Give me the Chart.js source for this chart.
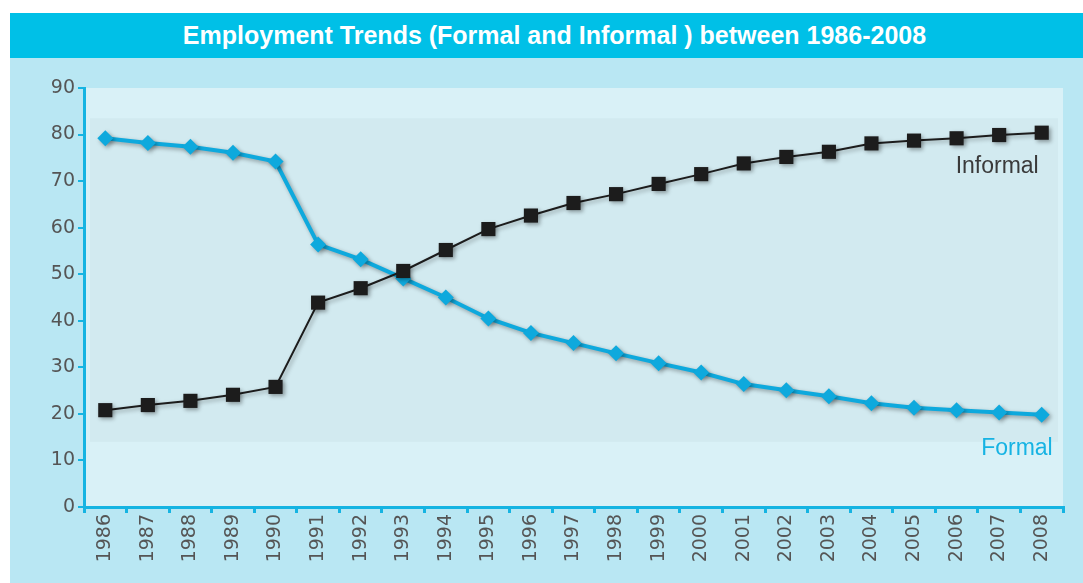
<!DOCTYPE html>
<html>
<head>
<meta charset="utf-8">
<title>Employment Trends</title>
<script src="https://cdn.jsdelivr.net/npm/chart.js@4"></script>
<style>
  html, body { margin: 0; padding: 0; background: #fff; }
  #wrap  { position: relative; width: 1083px; height: 583px; overflow: hidden; }
  #panel { position: absolute; left: 10px; top: 13px; right: 0; bottom: 0; background: #B9E7F3; }
  #title {
    position: absolute; left: 10px; top: 13px; right: 0; height: 45px;
    background: #00C0E7; color: #fff; text-align: center;
    font: bold 25px "Liberation Sans", Arial, sans-serif; line-height: 45px;
    padding-left: 16px; box-sizing: border-box;
  }
  canvas { position: absolute; left: 0; top: 0; }
</style>
</head>
<body>
<div id="wrap">
  <div id="panel"></div>
  <div id="title">Employment Trends (Formal and Informal ) between 1986-2008</div>
  <canvas id="chart" width="1083" height="583"></canvas>
</div>
<script>
// data
const YEARS = ['1986', '1987', '1988', '1989', '1990', '1991', '1992', '1993', '1994', '1995', '1996', '1997',
               '1998', '1999', '2000', '2001', '2002', '2003', '2004', '2005', '2006', '2007', '2008'];
const FORMAL   = [79.2, 78.2, 77.4, 76.1, 74.2, 56.4, 53.2, 49.1, 45.0, 40.5, 37.4, 35.2,
                  33.0, 30.9, 28.9, 26.4, 25.1, 23.8, 22.3, 21.3, 20.8, 20.3, 19.8];
const INFORMAL = [20.8, 21.9, 22.8, 24.1, 25.8, 43.9, 47.0, 50.7, 55.2, 59.7, 62.6, 65.3,
                  67.2, 69.4, 71.5, 73.8, 75.2, 76.3, 78.1, 78.7, 79.2, 79.9, 80.4];
const Y_TICKS = [0, 10, 20, 30, 40, 50, 60, 70, 80, 90];

const CYAN  = '#0EA9DD';
const AXIS  = '#16B4E2';
const INK   = '#1C1C1C';
const TICK_FONT = { family: "'DejaVu Sans', sans-serif", size: 19 };

// plot background + the slightly darker inner band
const backdrop = {
  id: 'backdrop',
  beforeDraw(chart) {
    const { ctx, chartArea: a, scales: { y } } = chart;
    ctx.save();
    ctx.fillStyle = '#D9F1F7';
    ctx.fillRect(a.left, a.top, a.right - a.left, a.bottom - a.top);
    ctx.fillStyle = '#D2EAF0';
    const top = y.getPixelForValue(83.5), bot = y.getPixelForValue(14);
    ctx.fillRect(a.left + 6, top, a.right - a.left - 11, bot - top);
    ctx.restore();
  },
};

// soft drop shadow under the lines and markers
const shadow = {
  id: 'shadow',
  beforeDatasetsDraw(chart) {
    const ctx = chart.ctx;
    ctx.save();
    ctx.shadowColor = 'rgba(0,0,0,0.35)';
    ctx.shadowBlur = 4;
    ctx.shadowOffsetX = 2;
    ctx.shadowOffsetY = 2;
  },
  afterDatasetsDraw(chart) { chart.ctx.restore(); },
};

// series names written next to the last points
const seriesNames = {
  id: 'seriesNames',
  afterDraw(chart) {
    const { ctx, scales: { x, y } } = chart;
    const last = x.getPixelForValue(YEARS.length - 1);
    ctx.save();
    ctx.font = "23px 'Liberation Sans', Arial, sans-serif";
    ctx.textAlign = 'right';
    ctx.textBaseline = 'middle';
    ctx.fillStyle = '#3A3A3A';
    ctx.fillText('Informal', last - 3, y.getPixelForValue(73.2));
    ctx.fillStyle = '#17B3E3';
    ctx.fillText('Formal', last + 11, y.getPixelForValue(12.5));
    ctx.restore();
  },
};

new Chart(document.getElementById('chart'), {
  type: 'line',
  data: {
    labels: YEARS,
    datasets: [
      {
        label: 'Formal',
        data: FORMAL,
        borderColor: CYAN,
        backgroundColor: CYAN,
        borderWidth: 4,
        pointStyle: 'rectRot',
        pointRadius: 8,
        pointBorderWidth: 0,
        tension: 0,
        order: 1,
      },
      {
        label: 'Informal',
        data: INFORMAL,
        borderColor: INK,
        backgroundColor: INK,
        borderWidth: 2,
        pointStyle: 'rect',
        pointRadius: 10,
        pointBorderWidth: 0,
        tension: 0,
        order: 0,
      },
    ],
  },
  options: {
    responsive: false,
    animation: false,
    layout: { padding: { top: 88, right: 20, bottom: 0, left: 0 } },
    plugins: { legend: { display: false }, tooltip: { enabled: false } },
    scales: {
      x: {
        offset: true,
        grid: { offset: true, drawOnChartArea: false, color: AXIS, lineWidth: 3, tickLength: 6 },
        border: { color: AXIS, width: 3 },
        ticks: { color: '#555', font: TICK_FONT, minRotation: 90, maxRotation: 90, padding: 1 },
        afterFit: s => { s.height = 76; },
      },
      y: {
        min: 0,
        max: 90,
        afterBuildTicks: s => { s.ticks = Y_TICKS.map(v => ({ value: v })); },
        grid: { drawOnChartArea: false, color: AXIS, lineWidth: 2, tickLength: 6 },
        border: { color: AXIS, width: 3 },
        ticks: { color: '#555', font: TICK_FONT, padding: 3 },
        afterFit: s => { s.width = 84; },
      },
    },
  },
  plugins: [backdrop, shadow, seriesNames],
});
</script>
</body>
</html>
